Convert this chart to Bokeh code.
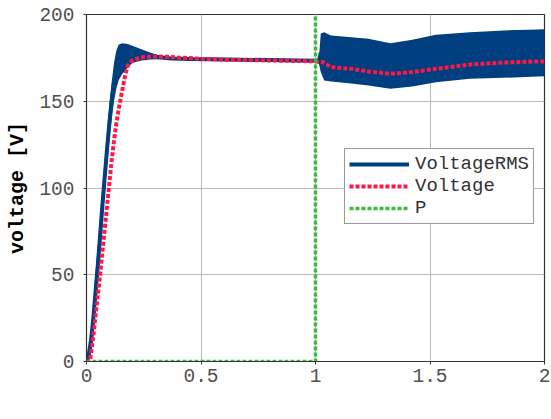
from bokeh.plotting import figure
from bokeh.models import FixedTicker, Legend, LegendItem, Range1d, Label
from bokeh.embed import file_html
from bokeh.resources import INLINE

# ---- data ----
# VoltageRMS is a fast-oscillating signal, drawn as its upper/lower envelope
rms_t = [0.0, 0.01, 0.02, 0.03, 0.04, 0.05, 0.06, 0.07, 0.08, 0.09, 0.10, 0.11,
         0.12, 0.13, 0.14, 0.155, 0.18, 0.20, 0.24, 0.28, 0.32, 0.37, 0.45, 0.6,
         0.8, 1.0, 1.015, 1.023, 1.038, 1.068, 1.156, 1.231, 1.327, 1.423, 1.526,
         1.674, 1.822, 1.97, 2.0]
rms_hi = [0, 8, 20, 35, 52, 68, 85, 102, 117, 133, 148, 161,
          172, 179, 182.5, 183.5, 183, 182, 180, 178, 176.4, 175.4, 175, 174.8,
          174.5, 174.2, 175, 189, 189.8, 187.9, 186.9, 186, 183.5, 185.4, 188.3,
          189.8, 190.8, 191.4, 191.5]
rms_lo = [0, 0, 5, 15, 30, 45, 62, 80, 97, 113, 127, 140,
          150, 157, 162, 165.5, 169.5, 172, 173.5, 174, 174.2, 174, 173.6, 173.3,
          173, 172.6, 171.5, 166.8, 162, 161.4, 160.2, 159.1, 157.2, 158.5, 161,
          163, 163.5, 164.3, 164.4]

volt_t = [0.0, 0.015, 0.03, 0.04, 0.05, 0.06, 0.07, 0.08, 0.09, 0.10, 0.11, 0.12,
          0.13, 0.14, 0.15, 0.16, 0.17, 0.18, 0.20, 0.22, 0.25, 0.30, 0.35, 0.40,
          0.50, 0.60, 0.80, 1.0, 1.03, 1.068, 1.156, 1.231, 1.327, 1.423, 1.526,
          1.674, 1.822, 1.97, 2.0]
volt_v = [0, 0, 15, 27, 39, 51, 64, 77, 90, 103, 116, 127,
          137, 145, 152, 159, 165.5, 170.5, 173.5, 174.5, 175.5, 175.8, 175.6, 175.2,
          174.5, 174, 173.5, 173, 172.6, 169.6, 168.7, 167.2, 165.8, 166.8, 168.7,
          171.2, 172.3, 172.9, 172.9]

p_t = [0.0, 1.0, 1.0, 2.0]
p_v = [0, 0, 1000, 1000]

x_ticks = [0, 0.5, 1, 1.5, 2]
x_tick_labels = ["0", "0.5", "1", "1.5", "2"]
y_ticks = [0, 50, 100, 150, 200]
y_tick_labels = ["0", "50", "100", "150", "200"]

BLUE = "#003f7f"
RED = "#ff1748"
GREEN = "#3cbc3c"
FONT = "Liberation Mono"

p = figure(width=551, height=419, output_backend="svg", toolbar_location=None,
           x_range=Range1d(0, 2), y_range=Range1d(0, 200),
           min_border_left=86, min_border_right=7, min_border_top=14,
           min_border_bottom=58)
p.background_fill_color = "white"
p.border_fill_color = "white"
p.outline_line_color = "#333333"
p.outline_line_width = 1.2

# glyphs
p.varea(x=rms_t, y1=rms_lo, y2=rms_hi, fill_color=BLUE, fill_alpha=1.0)
mid = [(a + b) / 2 for a, b in zip(rms_lo, rms_hi)]
r_rms = p.line(rms_t, mid, line_color=BLUE, line_width=4)
r_volt = p.line(volt_t, volt_v, line_color=RED, line_width=4, line_dash="4 2")
r_p = p.line(p_t, p_v, line_color=GREEN, line_width=3.5, line_dash="4 2")

# axes
for ax in (p.xaxis[0], p.yaxis[0]):
    ax.major_label_text_font = FONT
    ax.major_label_text_font_size = "19.5px"
    ax.major_label_text_color = "#505050"
    ax.axis_label_text_font = FONT
    ax.axis_label_text_font_size = "20px"
    ax.axis_label_text_font_style = "bold"
    ax.axis_label_text_color = "black"
    ax.axis_line_color = "#333333"
    ax.major_tick_line_color = "#333333"
    ax.major_tick_out = 3
    ax.major_tick_in = 0
    ax.minor_tick_line_color = None

p.xaxis.ticker = FixedTicker(ticks=x_ticks)
p.xaxis.major_label_overrides = {t: l for t, l in zip(x_ticks, x_tick_labels)}
p.yaxis.ticker = FixedTicker(ticks=y_ticks)
p.yaxis.major_label_overrides = {t: l for t, l in zip(y_ticks, y_tick_labels)}
p.yaxis.axis_label = "voltage [V]"
p.xaxis.major_label_standoff = 4
p.yaxis.major_label_standoff = 9
p.yaxis.axis_label_standoff = 7

# x axis title placed as a label below the frame
p.add_layout(Label(x=1.0, y=-44, y_units="screen", text="time [s]",
                   text_font=FONT, text_font_size="20px", text_font_style="bold",
                   text_color="black", text_align="center",
                   text_baseline="middle"))

p.grid.grid_line_color = "#b8b8b8"
p.grid.grid_line_width = 1

legend = Legend(items=[LegendItem(label="VoltageRMS", renderers=[r_rms]),
                       LegendItem(label="Voltage", renderers=[r_volt]),
                       LegendItem(label="P", renderers=[r_p])],
                location=(258, 137))
legend.label_text_font = FONT
legend.label_text_font_size = "19px"
legend.label_text_color = "#333333"
legend.border_line_color = "#333333"
legend.border_line_width = 1.2
legend.background_fill_alpha = 1.0
legend.glyph_width = 60
legend.glyph_height = 18
legend.label_height = 18
legend.label_standoff = 6
legend.spacing = 0
legend.padding = 4
legend.margin = 0
p.add_layout(legend, "center")

open("out.html", "w").write(file_html(p, INLINE))
